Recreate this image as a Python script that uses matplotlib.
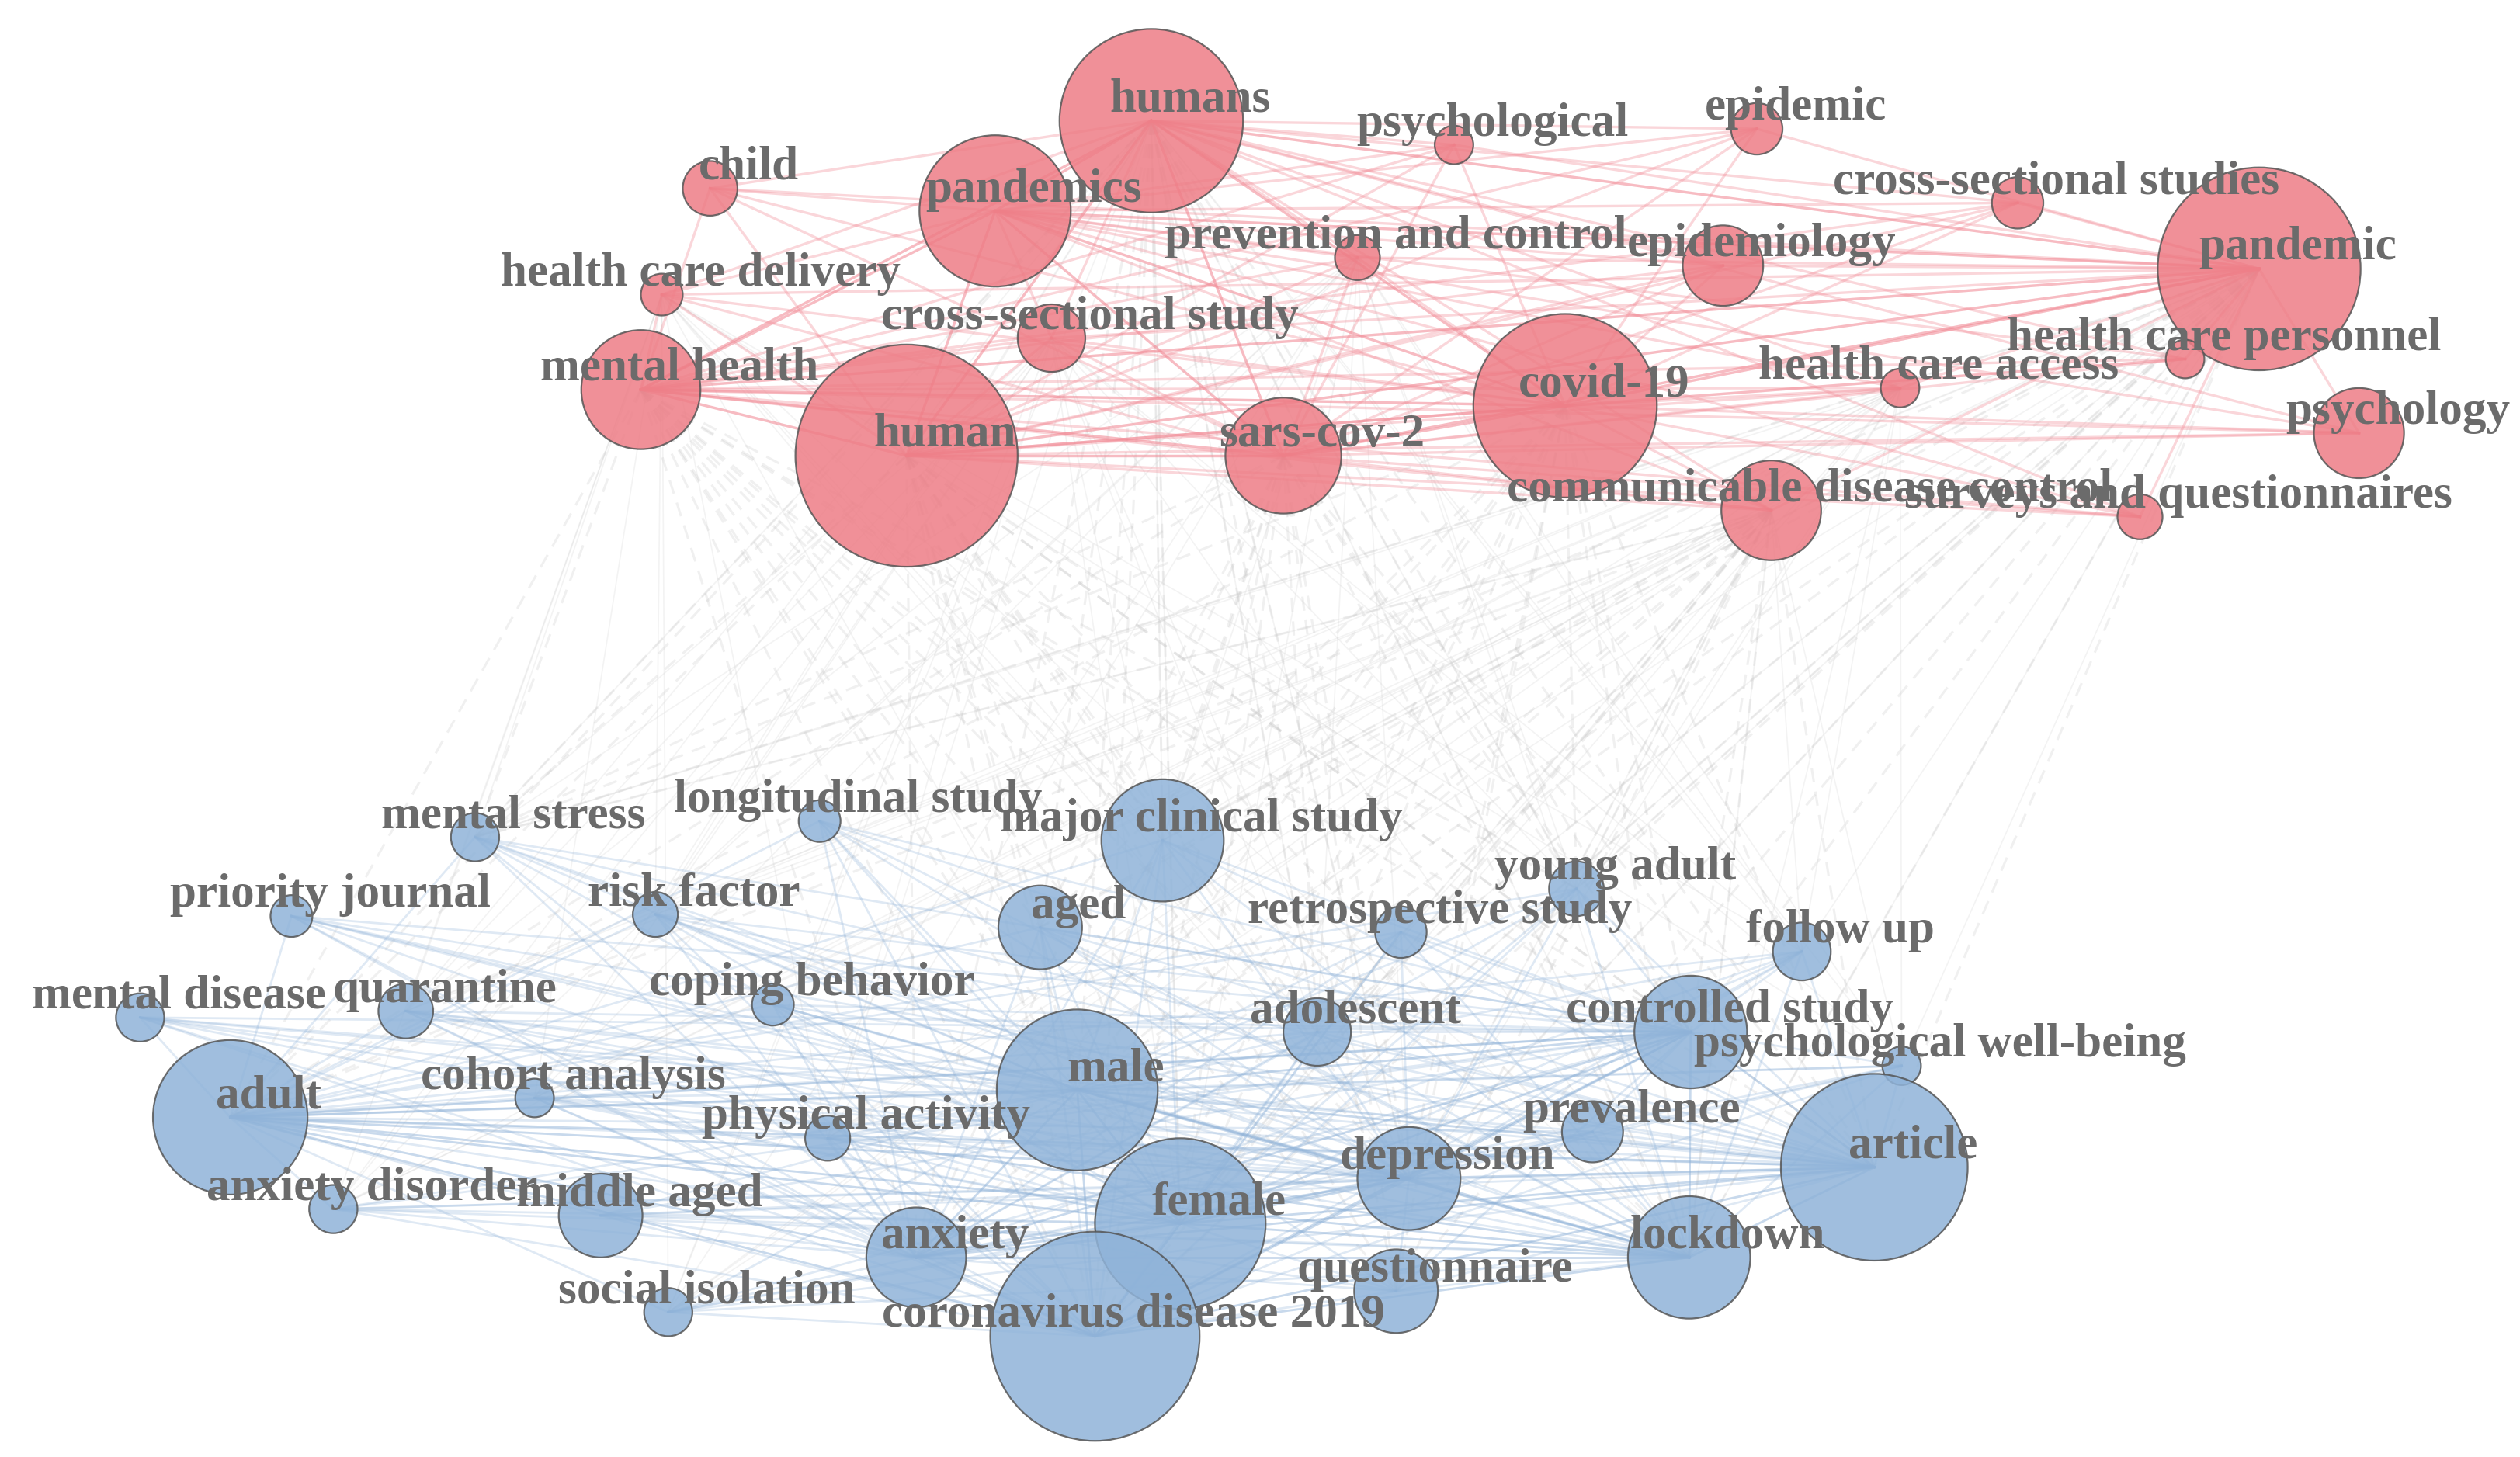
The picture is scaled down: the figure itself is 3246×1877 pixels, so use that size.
import matplotlib.pyplot as plt
from matplotlib.patches import Circle

# node data: (label, x, y, radius) in reference display units (1565 x 905)
red_labels = ["humans", "pandemics", "child", "health care delivery", "mental health",
              "human", "cross-sectional study", "psychological", "epidemic",
              "prevention and control", "epidemiology", "cross-sectional studies",
              "pandemic", "covid-19", "sars-cov-2", "health care access",
              "health care personnel", "psychology", "communicable disease control",
              "surveys and questionnaires"]
red_x = [715, 618, 441, 411, 398, 563, 653, 903, 1091, 843, 1070, 1253, 1403, 972, 797, 1180, 1357, 1465, 1100, 1329]
red_y = [75, 131, 117, 183, 242, 283, 210, 90, 80, 160, 165, 126, 167, 252, 283, 241, 223, 269, 317, 321]
red_r = [57, 47, 17, 13, 37, 69, 21, 12, 16, 14, 25, 16, 63, 57, 36, 12, 12, 28, 31, 14]

blue_labels = ["mental stress", "longitudinal study", "major clinical study", "priority journal",
               "risk factor", "aged", "young adult", "retrospective study", "follow up",
               "mental disease", "quarantine", "coping behavior", "adolescent",
               "controlled study", "psychological well-being", "adult", "cohort analysis",
               "male", "physical activity", "prevalence", "depression", "article",
               "anxiety disorder", "middle aged", "female", "anxiety", "lockdown",
               "questionnaire", "social isolation", "coronavirus disease 2019"]
blue_x = [295, 509, 722, 181, 407, 646, 979, 870, 1119, 87, 252, 480, 818, 1050, 1181, 143, 332, 669, 514, 989, 875, 1164, 207, 373, 733, 569, 1049, 867, 415, 680]
blue_y = [520, 510, 522, 569, 568, 576, 552, 579, 591, 632, 628, 624, 641, 641, 662, 694, 682, 677, 707, 703, 732, 725, 751, 755, 760, 781, 781, 802, 815, 830]
blue_r = [15, 13, 38, 13, 14, 26, 17, 16, 18, 15, 17, 13, 21, 35, 12, 48, 12, 50, 14, 19, 32, 58, 15, 26, 53, 31, 38, 26, 15, 65]

# hubs whose co-occurrence links are drawn
red_hubs = ["human", "humans", "pandemic", "covid-19", "pandemics", "sars-cov-2", "mental health"]
blue_hubs = ["adult", "male", "female", "article", "coronavirus disease 2019", "lockdown",
             "depression", "anxiety", "controlled study"]
cross_hubs = ["human", "humans", "covid-19", "pandemic", "sars-cov-2", "mental health",
              "communicable disease control"]
cross_targets = ["adult", "male", "female", "article", "coronavirus disease 2019", "lockdown",
                 "major clinical study", "depression", "anxiety", "controlled study",
                 "aged", "adolescent", "questionnaire", "mental stress", "young adult"]

pos = {}
for lab, x, y in zip(red_labels, red_x, red_y):
    pos[lab] = (x, y)
for lab, x, y in zip(blue_labels, blue_x, blue_y):
    pos[lab] = (x, y)

fig = plt.figure(figsize=(16.23, 9.385), dpi=200)
ax = fig.add_axes([0, 0, 1, 1])
ax.set_xlim(0, 1565)
ax.set_ylim(905, 0)
ax.set_aspect("auto")
ax.axis("off")

# cross-cluster edges
for a in cross_hubs:
    for b in cross_targets:
        (x1, y1), (x2, y2) = pos[a], pos[b]
        ax.plot([x1, x2], [y1, y2], color="#c4c4c4", lw=1.1, ls=(0, (6, 4)), alpha=0.25, zorder=1)
for a in red_labels[::3]:
    for b in blue_labels[::2]:
        (x1, y1), (x2, y2) = pos[a], pos[b]
        ax.plot([x1, x2], [y1, y2], color="#d0d0d0", lw=0.6, alpha=0.25, zorder=1)

# within-cluster edges
for h in red_hubs:
    for b in red_labels:
        if b == h:
            continue
        (x1, y1), (x2, y2) = pos[h], pos[b]
        ax.plot([x1, x2], [y1, y2], color="#f28b96", lw=1.2, alpha=0.35, zorder=2)
for h in blue_hubs:
    for b in blue_labels:
        if b == h:
            continue
        (x1, y1), (x2, y2) = pos[h], pos[b]
        ax.plot([x1, x2], [y1, y2], color="#8fb2d8", lw=1.0, alpha=0.28, zorder=2)

# nodes
for x, y, r in zip(red_x, red_y, red_r):
    ax.add_patch(Circle((x, y), r, facecolor="#ee7d86", edgecolor="#555555",
                        lw=0.8, alpha=0.85, zorder=3))
for x, y, r in zip(blue_x, blue_y, blue_r):
    ax.add_patch(Circle((x, y), r, facecolor="#8fb3d9", edgecolor="#555555",
                        lw=0.8, alpha=0.85, zorder=3))

# labels
for lab, x, y in zip(red_labels + blue_labels, red_x + blue_x, red_y + blue_y):
    ax.text(x + 24, y - 13, lab, ha="center", va="center", fontsize=22,
            family="Liberation Serif", fontweight="bold", color="#6b6b6b", zorder=4)

fig.savefig("out.png", dpi=200)
